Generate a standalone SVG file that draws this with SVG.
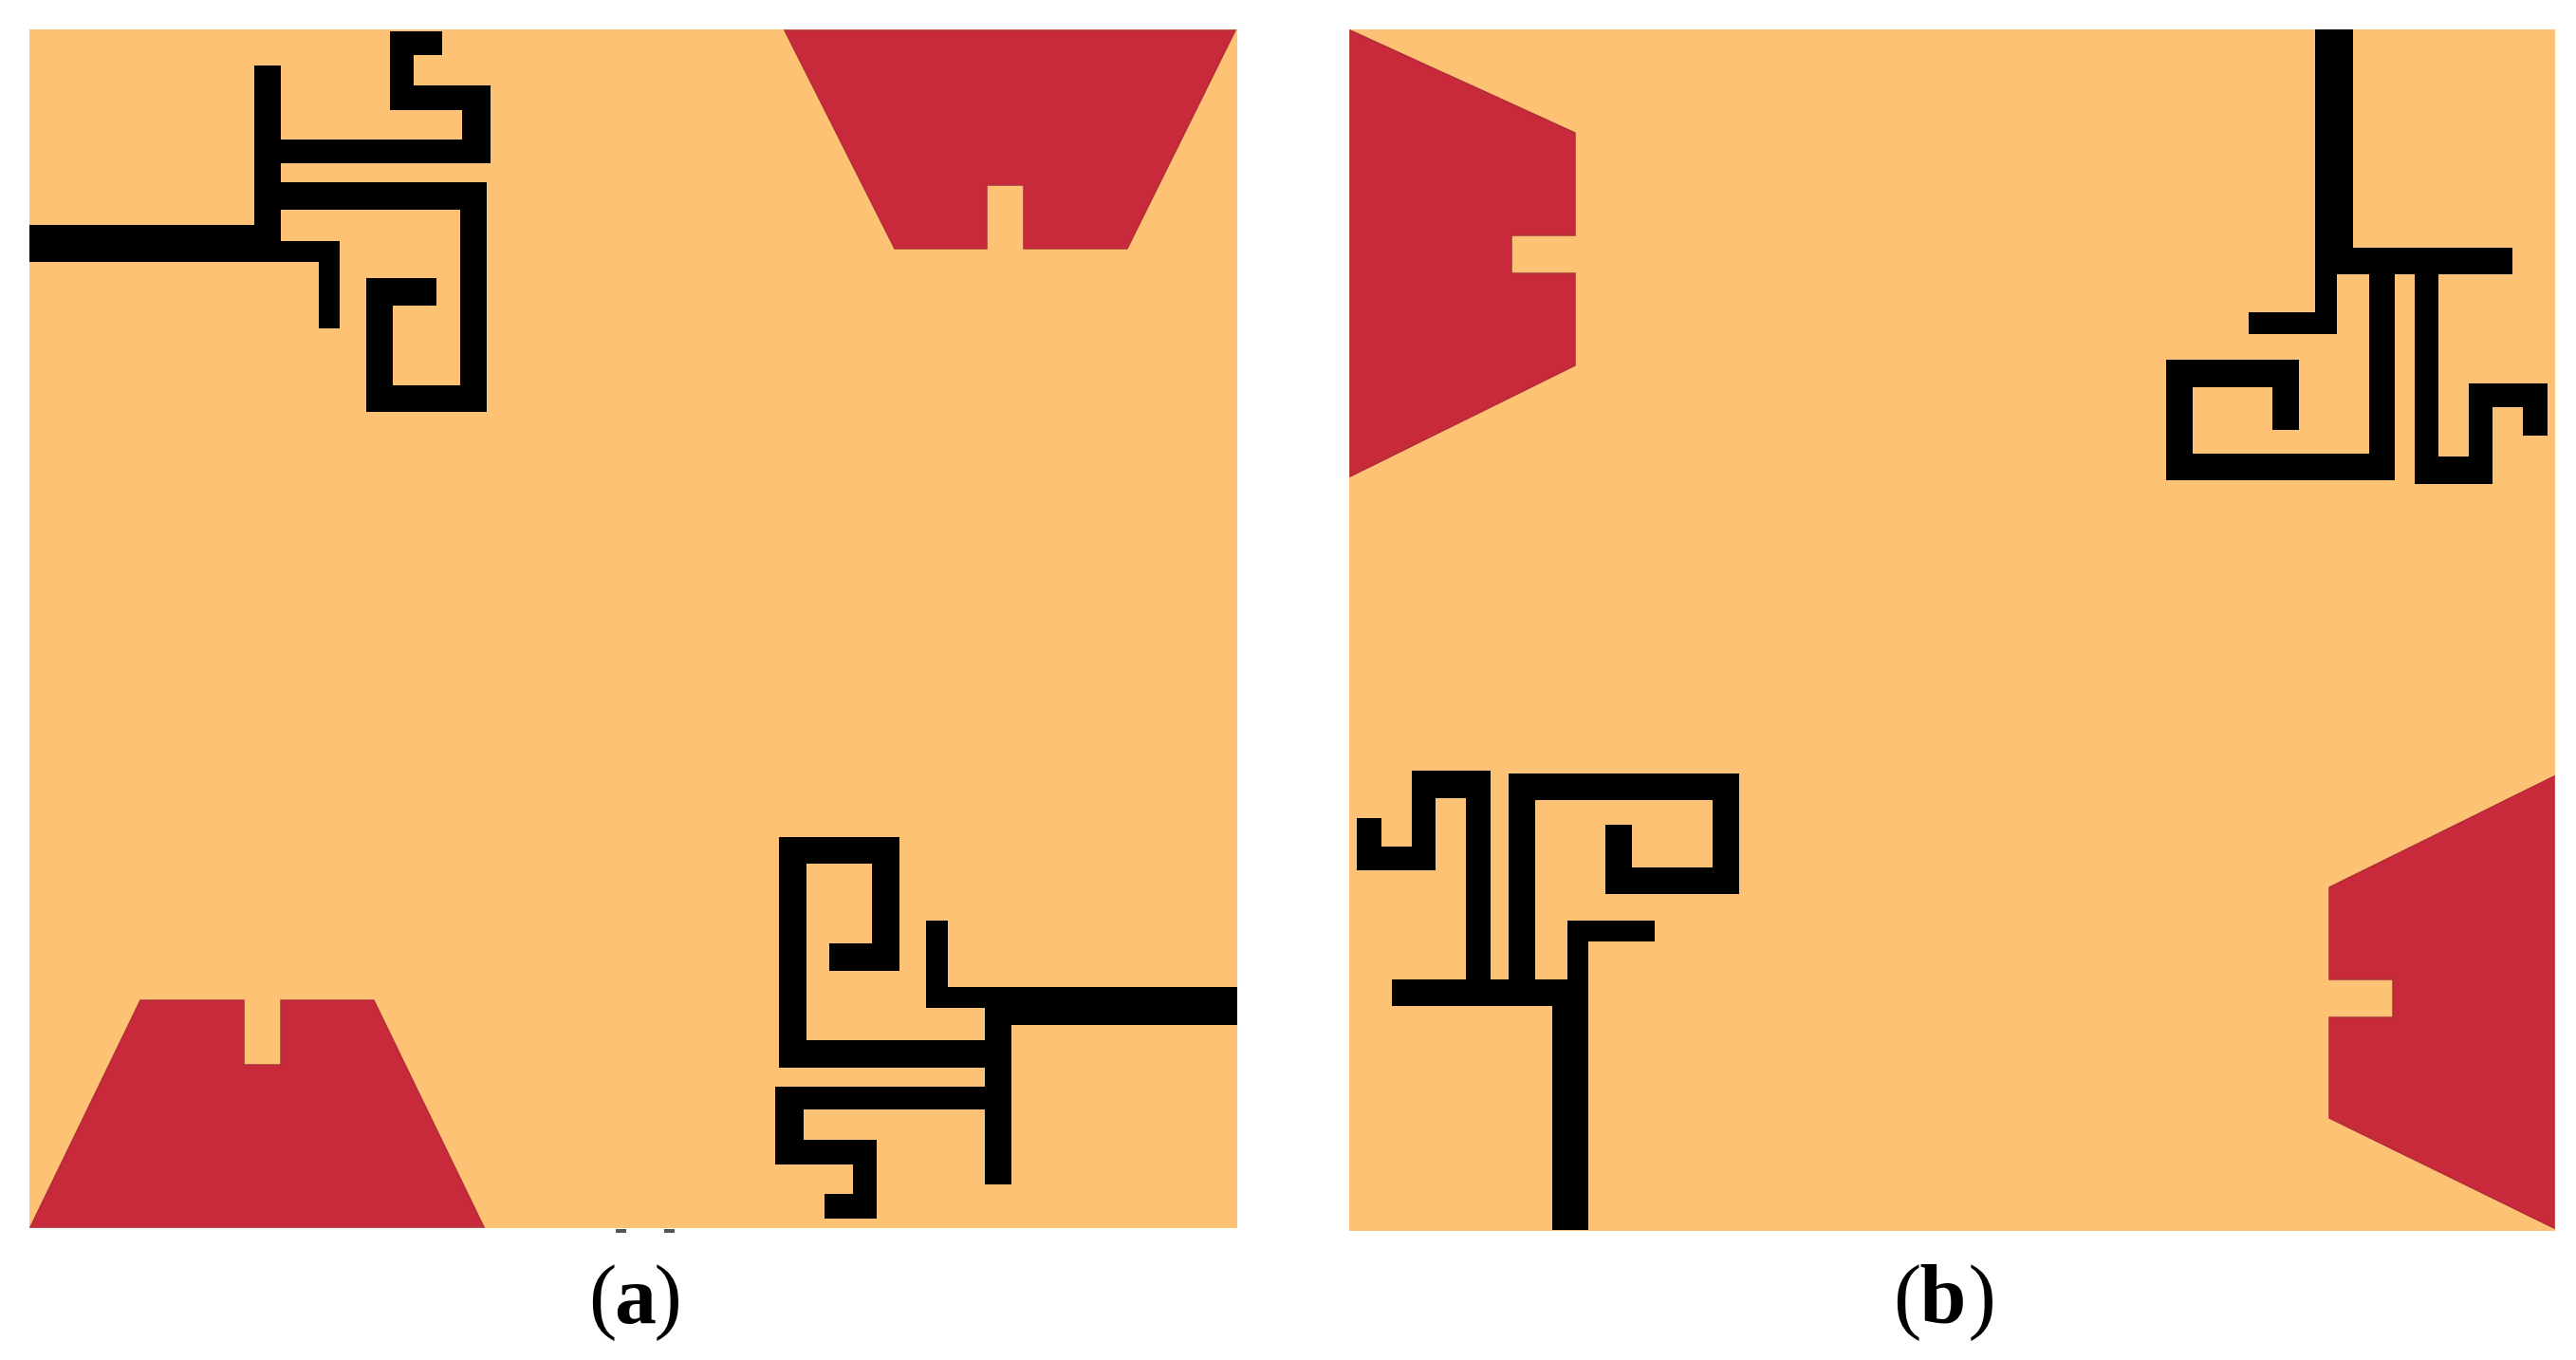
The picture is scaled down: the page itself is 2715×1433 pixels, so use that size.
<svg xmlns="http://www.w3.org/2000/svg" width="2715" height="1433" viewBox="0 0 2715 1433">
<defs>
<filter id="soft" x="-2%" y="-2%" width="104%" height="104%"><feGaussianBlur stdDeviation="0.7"/></filter>
</defs>
<style>
.board{fill:#fec275}
.patch{fill:#c82c3a;stroke:#b02e38;stroke-width:1.5;filter:url(#soft)}
.trace{fill:#000;filter:url(#soft)}
.mark{fill:#555;filter:url(#soft)}
.cap{font-family:"Liberation Serif","Times New Roman",serif;font-size:88px;fill:#000}
.b{font-weight:bold}
</style>
<rect width="2715" height="1433" fill="#fff"/>
<g id="panel-a">
<rect class="board" x="31" y="31" width="1273" height="1263"/>
<path class="patch" d="M827 32H1302L1188 262H1079V195H1040V262H943Z"/>
<path class="patch" d="M32 1293L148 1054H257V1122H296V1054H394L510 1293Z"/>
<path class="trace" d="M31 237H268V69H296V147H487V116H411V33H466V58H436V90H517V172H296V192H513V434H386V293H460V322H414V406H485V221H296V254H358V346H336V276H31Z"/>
<path class="trace" d="M1304 1040H999V970H976V1062H1038V1096H850V910H919V994H874V1023H948V882H821V1125H1038V1145H817V1227H899V1258H869V1284H924V1201H847V1169H1038V1248H1066V1080H1304Z"/>
<rect class="mark" x="649" y="1295" width="11" height="4"/>
<rect class="mark" x="700" y="1295" width="11" height="4"/>
<text class="cap" y="1394"><tspan x="621">(</tspan><tspan class="b" x="648">a</tspan><tspan x="689.5">)</tspan></text>
</g>
<g id="panel-b">
<rect class="board" x="1422" y="31" width="1271" height="1266"/>
<path class="patch" d="M1423 32L1660 140V248H1593V288H1660V385L1423 502Z"/>
<path class="patch" d="M2692 818L2455 935V1032H2522V1072H2455V1178L2692 1294Z"/>
<path class="trace" d="M2440 31H2480V261H2648V289H2570V481H2602V404H2685V459H2659V429H2627V510H2545V289H2524V506H2283V379H2423V453H2395V408H2311V478H2497V289H2463V352H2370V329H2440Z"/>
<path class="trace" d="M1674 1296V992H1744V970H1652V1032H1618V843H1805V914H1720V869H1692V942H1833V815H1590V1032H1571V812H1488V892H1456V862H1430V917H1513V841H1545V1032H1467V1060H1636V1296Z"/>
<text class="cap" y="1394"><tspan x="1996">(</tspan><tspan class="b" x="2023.5">b</tspan><tspan x="2074.5">)</tspan></text>
</g>
</svg>
